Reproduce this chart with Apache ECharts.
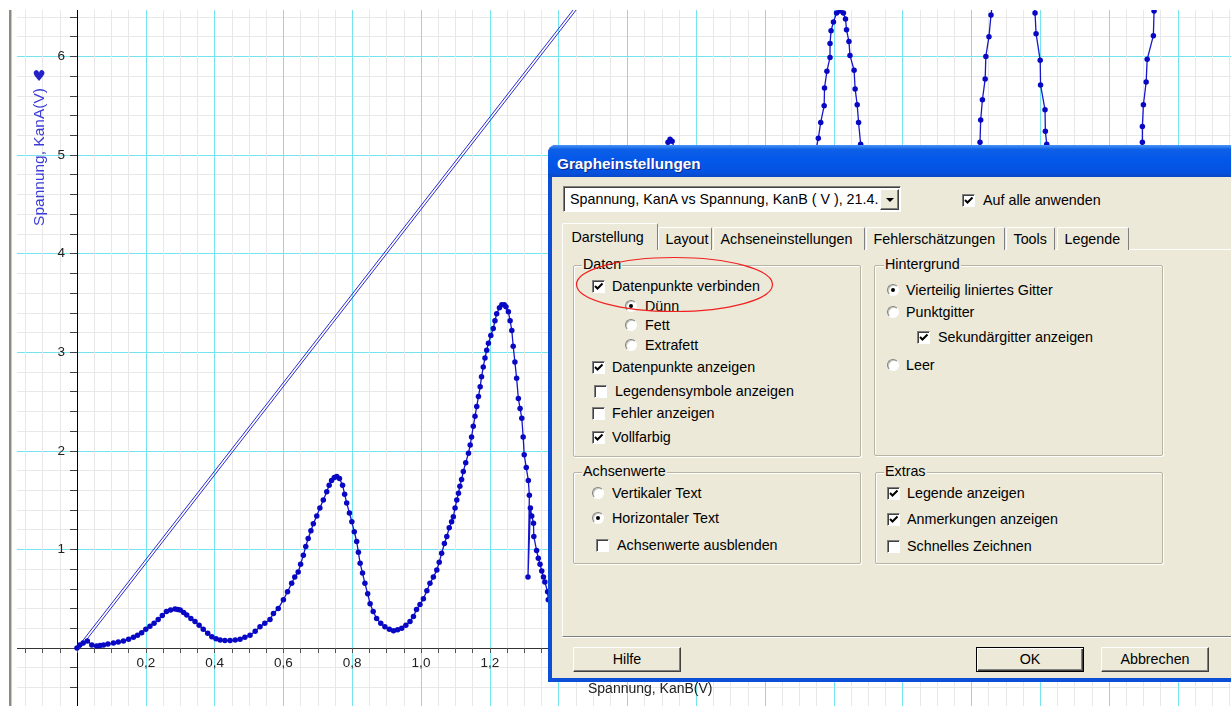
<!DOCTYPE html>
<html>
<head>
<meta charset="utf-8">
<script src="https://cdn.jsdelivr.net/npm/echarts@6/dist/echarts.min.js"></script>
<style>
  html, body { margin: 0; padding: 0; background: #fff; }
  #wrap { position: relative; width: 1231px; height: 706px; overflow: hidden; }
  #chart { position: absolute; left: 0; top: 0; width: 1231px; height: 706px; }
  #dlg { position: absolute; left: 0; top: 0; width: 1231px; height: 706px;
         font-family: "Liberation Sans", Arial, sans-serif; font-size: 14.3px; color: #000; }
  #dlg div, #dlg span { position: absolute; box-sizing: border-box; white-space: nowrap; }
  .frame { left: 548px; top: 145px; width: 720px; height: 537px; background: #0b4fd8;
           border-radius: 8px 8px 0 0; }
  .titlebar { left: 548px; top: 145px; width: 720px; height: 32px; border-radius: 8px 8px 0 0;
              background: linear-gradient(to bottom, #4a94f6 0%, #0d5fe6 14%, #0257ea 50%, #0652df 85%, #0a48c6 100%); }
  .title { left: 557px; top: 154px; line-height: 20px; font-weight: bold; font-size: 15.3px; color: #fff;
           text-shadow: 1px 1px 0 #0a2a8a; }
  .client { left: 552px; top: 177px; width: 700px; height: 501px; background: #ece9d8; }
  .combo { left: 563px; top: 186px; width: 338px; height: 26px; background: #fff;
           border: 1px solid; border-color: #808080 #fff #fff #808080; box-shadow: inset 1px 1px 0 #404040; }
  .drop { left: 880px; top: 189px; width: 19px; height: 21px; background: #ece9d8;
          border: 1px solid; border-color: #fff #404040 #404040 #fff; box-shadow: inset -1px -1px 0 #808080; }
  .tri { left: 5px; top: 8px; width: 0; height: 0; border-left: 4px solid transparent;
         border-right: 4px solid transparent; border-top: 4px solid #000; }
  .txt { line-height: 18px; }
  .panel { left: 562px; top: 249px; width: 700px; height: 388px; border-top: 1px solid #fff;
           border-left: 1px solid #fff; border-bottom: 1px solid #808080; box-shadow: 0 1px 0 #fff; }
  .tab { top: 227px; height: 23px; background: #ece9d8; border-top: 1px solid #fff; border-left: 1px solid #fff;
         border-right: 1px solid #808080; border-radius: 2px 2px 0 0; line-height: 22px; }
  .tab.on { top: 223px; height: 27px; line-height: 27px; z-index: 2; }
  .grp { border: 1px solid #b8b4a4; border-radius: 2px; box-shadow: 1px 1px 0 #fff, inset 1px 1px 0 #fff; }
  .glab { background: #ece9d8; padding: 0 1px; line-height: 17px; }
  .cb { width: 13px; height: 13px; background: #fff; border: 1px solid;
        border-color: #808080 #fff #fff #808080; box-shadow: inset 1px 1px 0 #404040; }
  .rb { width: 12px; height: 12px; background: #fff; border-radius: 50%; border: 1px solid;
        border-color: #808080 #fff #fff #808080; box-shadow: inset 1px 1px 0 #c8c8c0; }
  .dot { left: 3px; top: 3px; width: 4px; height: 4px; border-radius: 50%; background: #000; }
  .btn { background: #ece9d8; border: 1px solid; border-color: #fff #404040 #404040 #fff;
         box-shadow: inset -1px -1px 0 #808080; text-align: center; }
  .btn.def { border-color: #000; box-shadow: inset 1px 1px 0 #fff, inset -1px -1px 0 #404040, inset -2px -2px 0 #808080; }
</style>
</head>
<body>
<div id="wrap">
  <div id="chart"></div>
  <div id="dlg">
    <div class="frame"></div>
    <div class="titlebar"></div>
    <span class="title">Grapheinstellungen</span>
    <div class="client"></div>
    <div class="combo"></div>
    <span class="txt" style="left:570px;top:190px;">Spannung, KanA vs Spannung, KanB ( V ), 21.4.</span>
    <div class="drop"><span class="tri"></span></div>
    <div class="panel"></div>
  </div>
</div>
<script>
// Spannung KanB (x) und KanA (y)
const kanB = [
  0.000, 0.008, 0.018, 0.030, 0.043, 0.057, 0.067, 0.077, 0.090, 0.106,
  0.120, 0.135, 0.150, 0.164, 0.176, 0.188, 0.200, 0.212, 0.224, 0.236,
  0.248, 0.260, 0.272, 0.285, 0.293, 0.300, 0.310, 0.319, 0.331, 0.343,
  0.355, 0.367, 0.380, 0.392, 0.404, 0.416, 0.430, 0.445, 0.460, 0.474,
  0.488, 0.503, 0.518, 0.532, 0.546, 0.561, 0.571, 0.585, 0.600, 0.612,
  0.624, 0.633, 0.643, 0.650, 0.658, 0.665, 0.672, 0.680, 0.687, 0.697,
  0.706, 0.716, 0.726, 0.733, 0.740, 0.748, 0.755, 0.763, 0.772, 0.778,
  0.784, 0.792, 0.799, 0.806, 0.813, 0.818, 0.823, 0.830, 0.837, 0.845,
  0.852, 0.861, 0.871, 0.883, 0.895, 0.908, 0.920, 0.932, 0.944, 0.956,
  0.968, 0.978, 0.987, 0.997, 1.007, 1.017, 1.026, 1.036, 1.046, 1.053,
  1.060, 1.068, 1.075, 1.082, 1.089, 1.094, 1.099, 1.104, 1.109, 1.113,
  1.118, 1.123, 1.130, 1.138, 1.143, 1.147, 1.152, 1.157, 1.162, 1.167,
  1.172, 1.176, 1.181, 1.186, 1.191, 1.196, 1.203, 1.210, 1.215, 1.220,
  1.228, 1.235, 1.242, 1.247, 1.254, 1.259, 1.264, 1.268, 1.273, 1.278,
  1.283, 1.288, 1.293, 1.297, 1.300, 1.306, 1.312, 1.315, 1.311, 1.318,
  1.322, 1.327, 1.328, 1.336, 1.341, 1.346, 1.351, 1.356, 1.360, 1.368,
  1.370, 1.378, 1.390, 1.402, 1.420, 1.450, 1.480, 1.510, 1.540, 1.570,
  1.600, 1.630, 1.660, 1.690, 1.710, 1.718, 1.724, 1.730, 1.738, 1.760,
  1.790, 1.820, 1.850, 1.880, 1.910, 1.940, 1.970, 2.000, 2.030, 2.060,
  2.090, 2.120, 2.145, 2.155, 2.162, 2.172, 2.173, 2.180, 2.189, 2.189,
  2.192, 2.199, 2.208, 2.218, 2.228, 2.234, 2.237, 2.244, 2.247, 2.259,
  2.262, 2.268, 2.272, 2.278, 2.300, 2.330, 2.360, 2.390, 2.420, 2.450,
  2.480, 2.510, 2.540, 2.570, 2.600, 2.615, 2.625, 2.627, 2.632, 2.640,
  2.642, 2.651, 2.657, 2.668, 2.690, 2.720, 2.750, 2.772, 2.785, 2.788,
  2.800, 2.801, 2.814, 2.815, 2.819, 2.840, 2.870, 2.900, 2.930, 2.960,
  2.990, 3.020, 3.050, 3.070, 3.085, 3.097, 3.097, 3.100, 3.108, 3.111,
  3.129, 3.131, 3.145, 3.160
];
const kanA = [
  0.00, 0.03, 0.05, 0.07, 0.03, 0.02, 0.025, 0.03, 0.04, 0.05,
  0.06, 0.07, 0.09, 0.11, 0.13, 0.155, 0.19, 0.22, 0.25, 0.29,
  0.33, 0.37, 0.385, 0.395, 0.39, 0.385, 0.36, 0.335, 0.30, 0.27,
  0.23, 0.19, 0.15, 0.115, 0.095, 0.08, 0.075, 0.075, 0.08, 0.09,
  0.11, 0.13, 0.17, 0.215, 0.25, 0.29, 0.35, 0.40, 0.49, 0.57,
  0.656, 0.72, 0.77, 0.85, 0.94, 1.03, 1.11, 1.19, 1.26, 1.34,
  1.42, 1.50, 1.585, 1.65, 1.70, 1.73, 1.74, 1.72, 1.65, 1.56,
  1.47, 1.37, 1.28, 1.18, 1.08, 0.97, 0.86, 0.76, 0.656, 0.55,
  0.45, 0.37, 0.30, 0.25, 0.215, 0.19, 0.175, 0.185, 0.20, 0.23,
  0.27, 0.32, 0.39, 0.44, 0.50, 0.58, 0.656, 0.72, 0.79, 0.87,
  0.96, 1.06, 1.13, 1.22, 1.28, 1.33, 1.42, 1.50, 1.57, 1.64,
  1.71, 1.79, 1.88, 1.975, 2.06, 2.14, 2.25, 2.35, 2.45, 2.55,
  2.65, 2.75, 2.85, 2.94, 3.02, 3.09, 3.17, 3.24, 3.32, 3.39,
  3.45, 3.48, 3.48, 3.46, 3.41, 3.32, 3.22, 3.06, 2.90, 2.735,
  2.53, 2.43, 2.33, 2.14, 1.96, 1.83, 1.70, 1.55, 0.72, 1.42,
  1.34, 1.265, 1.13, 0.99, 0.91, 0.85, 0.78, 0.72, 0.67, 0.57,
  0.49, 0.42, 0.36, 0.33, 0.34, 0.50, 0.85, 1.30, 1.85, 2.45,
  3.05, 3.65, 4.20, 4.70, 5.00, 5.13, 5.16, 5.14, 5.05, 4.70,
  3.90, 2.90, 1.90, 1.20, 0.90, 0.95, 1.30, 1.90, 2.60, 3.35,
  4.05, 4.60, 5.00, 5.17, 5.33, 5.50, 5.68, 5.85, 5.99, 6.13,
  6.26, 6.35, 6.44, 6.46, 6.44, 6.38, 6.27, 6.15, 6.01, 5.86,
  5.67, 5.51, 5.33, 5.11, 4.60, 3.80, 2.90, 2.10, 1.60, 1.40,
  1.55, 2.00, 2.70, 3.50, 4.40, 4.85, 5.13, 5.355, 5.56, 5.77,
  6.00, 6.20, 6.42, 6.75, 7.10, 7.30, 7.10, 6.75, 6.44, 6.23,
  5.96, 5.71, 5.46, 5.24, 5.11, 4.60, 3.80, 3.05, 2.55, 2.35,
  2.55, 3.10, 3.85, 4.50, 4.90, 5.13, 5.29, 5.51, 5.74, 5.97,
  6.21, 6.46, 6.80, 7.20
];
// Doppellinie (hin und zurueck)
const diagUpB = [0.000, 1.560];
const diagUpA = [0.00, 7.00];
const diagDownB = [0.009, 1.569];
const diagDownA = [0.00, 7.00];

const zip = (xs, ys) => xs.map((x, i) => [x, ys[i]]);

const chart = echarts.init(document.getElementById('chart'));
chart.setOption({
  animation: false,
  backgroundColor: '#fff',
  grid: { left: 8.2, top: -42.2, width: 1238.4, height: 788.8, outerBoundsMode: 'none', containLabel: false },
  xAxis: {
    type: 'value', min: -0.2, max: 3.4, interval: 0.2,
    position: 'bottom', offset: -98.6,
    axisLine: { onZero: false, lineStyle: { color: '#333', width: 1 } },
    axisTick: { show: true, length: 5, lineStyle: { color: '#555' } },
    minorTick: { show: true, splitNumber: 4, length: 5, lineStyle: { color: '#555' } },
    splitLine: { show: true, lineStyle: { color: '#74e4ee', width: 1 } },
    minorSplitLine: { show: true, lineStyle: { color: '#e8e8e8', width: 1 } },
    axisLabel: {
      margin: 8, color: '#222', fontSize: 13.5, fontFamily: 'Liberation Sans',
      formatter: (v) => (v > 0.05 ? v.toFixed(1).replace('.', ',') : ''),
    },
  },
  yAxis: {
    type: 'value', min: -1, max: 7, interval: 1,
    position: 'left', offset: -68.8,
    axisLine: { onZero: false, lineStyle: { color: '#000', width: 1 } },
    axisTick: { show: true, length: 7, lineStyle: { color: '#444' } },
    minorTick: { show: true, splitNumber: 5, length: 7, lineStyle: { color: '#444' } },
    splitLine: { show: true, lineStyle: { color: '#74e4ee', width: 1 } },
    minorSplitLine: { show: true, lineStyle: { color: '#e8e8e8', width: 1 } },
    axisLabel: {
      margin: 12, color: '#222', fontSize: 13.5, fontFamily: 'Liberation Sans',
      formatter: (v) => (v > 0 && v < 7 ? String(v) : ''),
    },
  },
  series: [
    {
      type: 'line', data: zip(diagUpB, diagUpA), symbol: 'none', silent: true,
      lineStyle: { color: '#2b2bd0', width: 1 },
    },
    {
      type: 'line', data: zip(diagDownB, diagDownA), symbol: 'none', silent: true,
      lineStyle: { color: '#2b2bd0', width: 1 },
    },
    {
      type: 'line', data: zip(kanB, kanA), symbol: 'circle', symbolSize: 5.5, showSymbol: true,
      itemStyle: { color: '#0808c4' },
      lineStyle: { color: '#1616cc', width: 1.3 },
      z: 3,
    },
  ],
  graphic: [
    { type: 'rect', z: 100, shape: { x: 0, y: 0, width: 1231, height: 10 }, style: { fill: '#fff' } },
    { type: 'rect', z: 100, shape: { x: 0, y: 0, width: 17, height: 706 }, style: { fill: '#fff' } },
    { type: 'rect', z: 101, shape: { x: 9, y: 10, width: 2, height: 696 }, style: { fill: '#8c8c84' } },
    { type: 'rect', z: 101, shape: { x: 11, y: 10, width: 1, height: 696 }, style: { fill: '#c8c8c0' } },
    {
      type: 'text', z: 101, x: 40, y: 157, rotation: Math.PI / 2,
      style: { text: 'Spannung, KanA(V)', fill: '#3a3ad8', font: '15.5px "Liberation Sans"',
               align: 'center', verticalAlign: 'middle', textAlign: 'center', textVerticalAlign: 'middle' },
    },
    {
      type: 'text', z: 101, x: 39, y: 77,
      style: { text: '\u2665', fill: '#2323c8', font: '15px "DejaVu Sans"',
               align: 'center', verticalAlign: 'middle', textAlign: 'center', textVerticalAlign: 'middle' },
    },
    {
      type: 'text', z: 101, x: 588, y: 689,
      style: { text: 'Spannung, KanB(V)', fill: '#222', font: '14px "Liberation Sans"',
               align: 'left', verticalAlign: 'middle', textAlign: 'left', textVerticalAlign: 'middle' },
    },
  ],
});

// Dialog "Grapheinstellungen"
const dlg = document.getElementById('dlg');
const add = (cls, style, html) => {
  const d = document.createElement(cls === 'txt' || cls === 'glab' ? 'span' : 'div');
  d.className = cls;
  d.setAttribute('style', style);
  if (html) d.innerHTML = html;
  dlg.appendChild(d);
  return d;
};
const check = '<svg width="11" height="11" style="position:absolute;left:0;top:0"><path d="M2 5 L4.5 7.5 L9.5 2.5" stroke="#000" stroke-width="2" fill="none"/></svg>';

const tabs = [
  [564, 657, 'Darstellung', true], [658, 712, 'Layout'], [713, 865, 'Achseneinstellungen'],
  [866, 1005, 'Fehlersch\u00e4tzungen'], [1006, 1055, 'Tools'], [1057, 1129, 'Legende'],
];
tabs.forEach(([l, r, t, on]) => {
  add('tab' + (on ? ' on' : ''), `left:${on ? l - 2 : l}px;width:${r - l + (on ? 3 : 0)}px;padding-left:${on ? 8.5 : 6.5}px;`, t);
});

const groups = [
  [573, 265, 861, 457, 'Daten', 582], [874, 265, 1163, 456, 'Hintergrund', 884],
  [573, 472, 861, 564, 'Achsenwerte', 582], [875, 472, 1163, 564, 'Extras', 884],
];
groups.forEach(([l, t, r, b, label, lx]) => {
  add('grp', `left:${l}px;top:${t}px;width:${r - l}px;height:${b - t}px;`);
  add('glab', `left:${lx}px;top:${t - 9}px;`, label);
});

const checkboxes = [
  [962, 200, 983, 'Auf alle anwenden', true],
  [592, 286, 612, 'Datenpunkte verbinden', true],
  [592, 367, 612, 'Datenpunkte anzeigen', true],
  [594, 391, 615, 'Legendensymbole anzeigen', false],
  [592, 413, 612, 'Fehler anzeigen', false],
  [592, 437, 612, 'Vollfarbig', true],
  [917, 337, 938, 'Sekund\u00e4rgitter anzeigen', true],
  [596, 545, 617, 'Achsenwerte ausblenden', false],
  [887, 493, 907, 'Legende anzeigen', true],
  [887, 519, 907, 'Anmerkungen anzeigen', true],
  [887, 546, 907, 'Schnelles Zeichnen', false],
];
checkboxes.forEach(([x, cy, lx, t, on]) => {
  add('cb', `left:${x}px;top:${cy - 6.5}px;`, on ? check : '');
  add('txt', `left:${lx}px;top:${cy - 9}px;`, t);
});

const radios = [
  [625, 306, 645, 'D\u00fcnn', true], [625, 325, 645, 'Fett', false], [625, 345, 645, 'Extrafett', false],
  [887, 290, 906, 'Vierteilig liniertes Gitter', true], [887, 312, 906, 'Punktgitter', false],
  [887, 365, 906, 'Leer', false],
  [592, 493, 612, 'Vertikaler Text', false], [592, 518, 612, 'Horizontaler Text', true],
];
radios.forEach(([x, cy, lx, t, on]) => {
  add('rb', `left:${x}px;top:${cy - 6}px;`, on ? '<span class="dot"></span>' : '');
  add('txt', `left:${lx}px;top:${cy - 9}px;`, t);
});

const buttons = [[573, 647, 108, 25, 'Hilfe'], [976, 647, 108, 25, 'OK', true], [1101, 647, 108, 25, 'Abbrechen']];
buttons.forEach(([x, y, w, h, t, def]) => {
  add('btn' + (def ? ' def' : ''), `left:${x}px;top:${y}px;width:${w}px;height:${h}px;line-height:${h - 2}px;`, t);
});

const svg = document.createElementNS('http://www.w3.org/2000/svg', 'svg');
svg.setAttribute('width', '1231');
svg.setAttribute('height', '706');
svg.setAttribute('style', 'position:absolute;left:0;top:0;');
svg.innerHTML = '<ellipse cx="674.5" cy="284.5" rx="98" ry="27" fill="none" stroke="#f02020" stroke-width="1.2"/>';
dlg.appendChild(svg);
</script>
</body>
</html>
